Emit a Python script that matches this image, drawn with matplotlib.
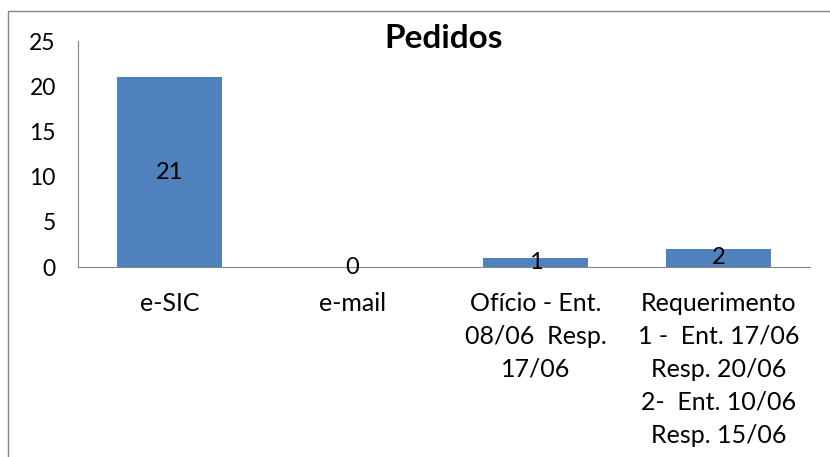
import matplotlib.pyplot as plt
from matplotlib.patches import Rectangle

categories = ["e-SIC", "e-mail", "Ofício - Ent.\n08/06  Resp.\n17/06",
              "Requerimento\n1 -  Ent. 17/06\nResp. 20/06\n2-  Ent. 10/06\nResp. 15/06"]
values = [21, 0, 1, 2]
yticks = [0, 5, 10, 15, 20, 25]

plt.rcParams['font.family'] = ['Lato', 'DejaVu Sans']

W, H = 830, 457
fig = plt.figure(figsize=(W / 100, H / 100), dpi=100)

# outer chart frame (right/bottom edges fall outside the picture)
fig.patches.append(Rectangle((8 / W, -0.1), 1.2, (H - 11) / H + 0.1,
                             transform=fig.transFigure, fill=False,
                             edgecolor="#868686", linewidth=1))

ax = fig.add_axes([78 / W, 1 - 267 / H, (810 - 78) / W, (267 - 41) / H])

x = range(len(values))
ax.bar(x, values, width=0.57, color="#4F81BD")
for i, v in enumerate(values):
    ax.text(i, v / 2, str(v), ha="center", va="center", fontsize=17, color="black")

ax.set_xlim(-0.5, len(values) - 0.5)
ax.set_ylim(0, 25)
ax.set_yticks(yticks)
ax.set_xticks(list(x))
ax.set_xticklabels(categories, fontsize=18, linespacing=1.52, va="top")
ax.tick_params(axis="y", length=0, pad=16, labelsize=16.5)
ax.tick_params(axis="x", length=0, pad=18)

for s in ["top", "right"]:
    ax.spines[s].set_visible(False)
for s in ["left", "bottom"]:
    ax.spines[s].set_color("#868686")

fig.text(444 / W, 1 - 39 / H, "Pedidos", ha="center", va="center",
         fontsize=24, fontweight="bold")

fig.savefig("out.png", dpi=100)
